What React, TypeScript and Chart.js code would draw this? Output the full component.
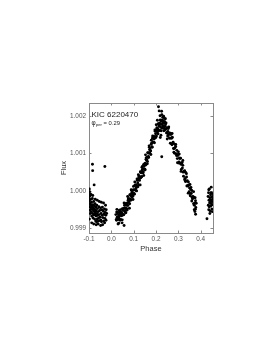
import React, { useEffect, useRef } from "react";
import { Chart, registerables } from "chart.js";

Chart.register(...registerables);

// ---- Data (phase, normalized flux) ----
const leftPhase = [
  -0.099, -0.098, -0.097, -0.096, -0.095, -0.094, -0.093, -0.092, -0.091, -0.09,
  -0.089, -0.088, -0.087, -0.086, -0.085, -0.084, -0.083, -0.082, -0.081, -0.08,
  -0.079, -0.078, -0.077, -0.076, -0.075, -0.074, -0.073, -0.072, -0.071, -0.07,
  -0.069, -0.068, -0.067, -0.066, -0.065, -0.064, -0.063, -0.062, -0.061, -0.06,
  -0.058, -0.057, -0.056, -0.055, -0.053, -0.052, -0.05, -0.049, -0.047, -0.046,
  -0.044, -0.043, -0.041, -0.04, -0.038, -0.036, -0.034, -0.033, -0.031, -0.029,
  -0.027, -0.025, -0.023,
  -0.098, -0.094, -0.088, -0.083, -0.079, -0.072, -0.068, -0.063, -0.059, -0.054,
  -0.048, -0.045, -0.039, -0.035, -0.03, -0.026, -0.024, -0.021,
  -0.0845, -0.0837, -0.029, -0.077, -0.0985, -0.097, -0.09, -0.0995, -0.096,
];
const leftFlux = [
  0.99972, 0.99958, 0.99985, 0.99949, 0.99966, 0.9994, 0.99977, 0.99955, 0.99962, 0.99945,
  0.9997, 0.99933, 0.99958, 0.99951, 0.9998, 0.9994, 0.99963, 0.99928, 0.99955, 0.99947,
  0.99972, 0.99936, 0.99952, 0.9996, 0.99925, 0.99944, 0.99966, 0.99938, 0.9995, 0.9992,
  0.99957, 0.99933, 0.99946, 0.99918, 0.99962, 0.9994, 0.99925, 0.99953, 0.99935, 0.99919,
  0.99945, 0.99928, 0.99958, 0.99937, 0.99921, 0.99948, 0.9993, 0.99955, 0.99922, 0.9994,
  0.99918, 0.9995, 0.99935, 0.99957, 0.99929, 0.99946, 0.9992, 0.99938, 0.99952, 0.99927,
  0.99943, 0.99935, 0.9995,
  0.99925, 0.99992, 0.99915, 0.99988, 0.99912, 0.99978, 0.9991, 0.99975, 0.99912, 0.99972,
  0.99908, 0.9997, 0.9991, 0.99968, 0.99915, 0.99962, 0.99922, 0.9994,
  1.00071, 1.00054, 1.00065, 1.00016, 1.00005, 0.99998, 0.9999, 0.99978, 0.99988,
];

const risePhase = [
  0.02, 0.022, 0.024, 0.026, 0.028, 0.03, 0.032, 0.034, 0.036, 0.038,
  0.04, 0.042, 0.044, 0.046, 0.048, 0.05, 0.052, 0.054, 0.056, 0.058,
  0.06, 0.062, 0.064, 0.066, 0.068, 0.07, 0.072, 0.074, 0.076, 0.078,
  0.08, 0.082, 0.084, 0.086, 0.088, 0.09, 0.092, 0.094, 0.096, 0.098,
  0.1, 0.102, 0.104, 0.106, 0.108, 0.11, 0.112, 0.114, 0.116, 0.118,
  0.12, 0.122, 0.124, 0.126, 0.128, 0.13, 0.132, 0.134, 0.136, 0.138,
  0.14, 0.142, 0.144, 0.146, 0.148, 0.15, 0.152, 0.154, 0.156, 0.158,
  0.16, 0.162, 0.164, 0.166, 0.168, 0.17, 0.172, 0.174, 0.176, 0.178,
  0.18, 0.182, 0.184, 0.186, 0.188, 0.19, 0.192, 0.194, 0.196, 0.198,
  0.2, 0.202, 0.204, 0.206, 0.208, 0.21, 0.212, 0.214,
  0.023, 0.027, 0.031, 0.035, 0.039, 0.043, 0.047, 0.051, 0.055, 0.059,
  0.063, 0.067, 0.071, 0.075, 0.079, 0.083, 0.087, 0.091, 0.095, 0.099,
  0.103, 0.107, 0.111, 0.115, 0.119, 0.123, 0.127, 0.131, 0.135, 0.139,
  0.143, 0.147, 0.151, 0.155, 0.159, 0.163, 0.167, 0.171, 0.175, 0.179,
  0.183, 0.187, 0.191, 0.195, 0.199, 0.203, 0.207, 0.211,
  0.025, 0.033, 0.041, 0.049, 0.057, 0.065, 0.073, 0.081, 0.089, 0.097,
  0.105, 0.113, 0.121, 0.129, 0.137, 0.145, 0.153, 0.161, 0.169, 0.177,
  0.185, 0.193, 0.201, 0.209,
  0.057, 0.048, 0.03,
];
const riseFlux = [
  0.99937, 0.99924, 0.99944, 0.9993, 0.99941, 0.99924, 0.99936, 0.99928, 0.99943, 0.99934,
  0.99939, 0.99924, 0.99945, 0.99934, 0.99941, 0.99953, 0.99936, 0.99948, 0.99937, 0.99954,
  0.99955, 0.99944, 0.99966, 0.99954, 0.99967, 0.99952, 0.99967, 0.99961, 0.99979, 0.99971,
  0.99979, 0.99966, 0.99989, 0.99978, 0.99987, 1.00001, 0.99984, 0.99996, 0.99986, 1.00002,
  1.00003, 0.99993, 1.00014, 1.00003, 1.00015, 1.00001, 1.00016, 1.00011, 1.00028, 1.00021,
  1.00029, 1.00016, 1.00039, 1.00028, 1.00037, 1.00051, 1.00035, 1.00048, 1.00038, 1.00056,
  1.00058, 1.00048, 1.0007, 1.00059, 1.00072, 1.00058, 1.00074, 1.00069, 1.00088, 1.00081,
  1.0009, 1.00078, 1.00101, 1.00092, 1.00101, 1.00116, 1.00101, 1.00114, 1.00106, 1.00124,
  1.00127, 1.00118, 1.0014, 1.0013, 1.00143, 1.0013, 1.00145, 1.0014, 1.00159, 1.00152,
  1.0016, 1.00146, 1.00168, 1.00157, 1.00166, 1.00179, 1.00161, 1.00173,
  0.99922, 0.99943, 0.9993, 0.99948, 0.99922, 0.99943, 0.99938, 0.99952, 0.99937, 0.99962,
  0.99948, 0.99962, 0.99949, 0.99975, 0.99973, 0.9999, 0.99975, 0.99994, 0.99989, 1.00012,
  0.99991, 1.00016, 1.00008, 1.00032, 1.00011, 1.00035, 1.00033, 1.0005, 1.00038, 1.00065,
  1.00051, 1.00066, 1.00056, 1.00084, 1.00083, 1.00102, 1.00089, 1.0011, 1.00108, 1.00135,
  1.00116, 1.00144, 1.00138, 1.00162, 1.00142, 1.00165, 1.00161, 1.00177,
  0.99951, 0.99914, 0.9995, 0.99923, 0.99968, 0.99942, 0.99985, 0.99954, 1.00003, 0.99977,
  1.00024, 1.0, 1.00043, 1.00016, 1.00063, 1.00041, 1.00096, 1.00072, 1.0012, 1.00097,
  1.00146, 1.00128, 1.00176, 1.00152,
  0.99908, 0.99915, 0.99912,
];

const peakPhase = [
  0.216, 0.217, 0.219, 0.22, 0.221, 0.223, 0.224, 0.225, 0.227, 0.228,
  0.229, 0.231, 0.232, 0.233, 0.235, 0.236, 0.237, 0.239, 0.24, 0.241,
  0.243, 0.244, 0.245, 0.247, 0.248, 0.249, 0.251, 0.252, 0.253, 0.255,
  0.256, 0.257, 0.259, 0.26, 0.261,
  0.222, 0.234, 0.242, 0.25, 0.226, 0.219,
  0.211, 0.214, 0.225, 0.218, 0.23, 0.238, 0.206, 0.2256,
];
const peakFlux = [
  1.00181, 1.00161, 1.00189, 1.0017, 1.00177, 1.0016, 1.00185, 1.00168, 1.00177, 1.00189,
  1.00167, 1.00181, 1.00173, 1.00186, 1.0016, 1.0018, 1.00167, 1.00184, 1.00162, 1.00173,
  1.00178, 1.00165, 1.00181, 1.00154, 1.00168, 1.00155, 1.00167, 1.00146, 1.00158, 1.00166,
  1.0015, 1.0017, 1.00151, 1.00141, 1.00154,
  1.00148, 1.00199, 1.00192, 1.00138, 1.00203, 1.00142,
  1.00224, 1.00213, 1.00212, 1.002, 1.00196, 1.00193, 1.00188, 1.00091,
];

const fallPhase = [
  0.263, 0.265, 0.268, 0.27, 0.273, 0.275, 0.278, 0.28, 0.283, 0.285,
  0.288, 0.29, 0.293, 0.295, 0.298, 0.3, 0.303, 0.305, 0.308, 0.31,
  0.313, 0.315, 0.318, 0.32, 0.323, 0.325, 0.328, 0.33, 0.333, 0.335,
  0.338, 0.34, 0.343, 0.345, 0.348, 0.35, 0.353, 0.355, 0.358, 0.36,
  0.363, 0.365, 0.368, 0.37, 0.373, 0.375, 0.378, 0.38,
  0.2665, 0.2715, 0.2765, 0.2815, 0.2865, 0.2915, 0.2965, 0.3015, 0.3065, 0.3115,
  0.3165, 0.3215, 0.3265, 0.3315, 0.3365, 0.3415, 0.3465, 0.3515, 0.3565, 0.3615,
  0.3665, 0.3715, 0.3765,
  0.264, 0.272, 0.28, 0.288, 0.296, 0.304, 0.312, 0.32, 0.328, 0.336,
  0.344, 0.352, 0.36, 0.368, 0.376,
  0.374, 0.377, 0.371,
];
const fallFlux = [
  1.0014, 1.00153, 1.00126, 1.0014, 1.00143, 1.00126, 1.00113, 1.00126, 1.001, 1.00115,
  1.00118, 1.00099, 1.00108, 1.00086, 1.00094, 1.00104, 1.00077, 1.00087, 1.00074, 1.00087,
  1.00057, 1.00073, 1.00061, 1.00068, 1.00039, 1.00052, 1.00054, 1.00033, 1.00049, 1.00026,
  1.00013, 1.00027, 1.00013, 1.00024, 0.99998, 1.00008, 0.99987, 1.00004, 0.99993, 1.00001,
  0.99979, 0.99985, 0.99966, 0.99983, 0.99967, 0.99982, 0.99956, 0.99967,
  1.0015, 1.00123, 1.0013, 1.00113, 1.00123, 1.00094, 1.00097, 1.00074, 1.00087, 1.00071,
  1.00076, 1.0005, 1.00051, 1.00025, 1.00037, 1.00014, 1.00016, 0.99993, 1.00009, 0.99983,
  0.99981, 0.99962, 0.99974,
  1.00127, 1.00153, 1.00103, 1.00124, 1.00075, 1.00098, 1.00052, 1.00081, 1.0003, 1.00046,
  0.99994, 1.00017, 0.99973, 0.99998, 0.99951,
  0.99945, 0.99938, 0.9995,
];

const rightPhase = [
  0.433, 0.434, 0.435, 0.436, 0.437, 0.438, 0.439, 0.44, 0.441, 0.442,
  0.443, 0.444, 0.445, 0.446, 0.447, 0.448, 0.449, 0.45, 0.451, 0.452,
  0.453, 0.454, 0.436, 0.441, 0.446, 0.451, 0.4545, 0.428,
];
const rightFlux = [
  0.99985, 0.99962, 0.99995, 0.9995, 0.99975, 0.99958, 1.00005, 0.99968, 0.99982, 0.99947,
  0.9997, 0.9999, 0.9996, 0.99976, 1.0001, 0.99965, 0.99984, 0.99952, 0.99972, 0.99993,
  0.99963, 0.99978, 1.00003, 0.9994, 0.99995, 0.99945, 0.99985, 0.99926,
];

const xTickValues = [-0.1, 0.0, 0.1, 0.2, 0.3, 0.4];
const xTickLabels = ["-0.1", "0.0", "0.1", "0.2", "0.3", "0.4"];
const yTickValues = [0.999, 1.0, 1.001, 1.002];
const yTickLabels = ["0.999", "1.000", "1.001", "1.002"];

const xTitle = "Phase";
const yTitle = "Flux";
const starName = "KIC 6220470";
const phiSymbol = "φ";
const phiSub = "per";
const phiValue = " = 0.29";

const FONT = "'Liberation Sans', Arial, sans-serif";

function buildPoints() {
  const segs: [number[], number[]][] = [
    [leftPhase, leftFlux],
    [risePhase, riseFlux],
    [peakPhase, peakFlux],
    [fallPhase, fallFlux],
    [rightPhase, rightFlux],
  ];
  const pts: { x: number; y: number }[] = [];
  for (const [px, fy] of segs) {
    for (let i = 0; i < px.length; i++) pts.push({ x: px[i], y: fy[i] });
  }
  return pts;
}

const framePlugin = {
  id: "frame",
  beforeDatasetsDraw(chart: any) {
    const { ctx, chartArea } = chart;
    const { left, right, top, bottom } = chartArea;
    ctx.save();
    ctx.strokeStyle = "#8a8a8a";
    ctx.lineWidth = 1;
    ctx.strokeRect(Math.round(left) + 0.5, Math.round(top) + 0.5, Math.round(right - left), Math.round(bottom - top));
    const xs = chart.scales.x;
    const ys = chart.scales.y;
    ctx.beginPath();
    for (const v of xTickValues) {
      const p = Math.round(xs.getPixelForValue(v)) + 0.5;
      ctx.moveTo(p, bottom);
      ctx.lineTo(p, bottom - 2.5);
      ctx.moveTo(p, top);
      ctx.lineTo(p, top + 2.5);
    }
    for (const v of yTickValues) {
      const p = Math.round(ys.getPixelForValue(v)) + 0.5;
      ctx.moveTo(left, p);
      ctx.lineTo(left + 2.5, p);
      ctx.moveTo(right, p);
      ctx.lineTo(right - 2.5, p);
    }
    ctx.stroke();
    ctx.restore();
  },
  afterDraw(chart: any) {
    const { ctx, chartArea } = chart;
    const x0 = chartArea.left + 2.5;
    ctx.save();
    ctx.fillStyle = "#222";
    ctx.textBaseline = "alphabetic";
    ctx.textAlign = "left";
    ctx.font = `8px ${FONT}`;
    ctx.fillText(starName, x0, chartArea.top + 13.5);
    let x = x0;
    const yb = chartArea.top + 21.8;
    ctx.font = `6.4px ${FONT}`;
    ctx.fillText(phiSymbol, x, yb);
    x += ctx.measureText(phiSymbol).width + 0.3;
    ctx.font = `4.2px ${FONT}`;
    ctx.fillText(phiSub, x, yb + 1.5);
    x += ctx.measureText(phiSub).width;
    ctx.font = `5.8px ${FONT}`;
    ctx.fillText(phiValue, x, yb);
    ctx.restore();
  },
};

export default function App() {
  const canvasRef = useRef<HTMLCanvasElement | null>(null);

  useEffect(() => {
    const canvas = canvasRef.current;
    if (!canvas) return;
    const chart = new Chart(canvas, {
      type: "scatter",
      data: {
        datasets: [
          {
            data: buildPoints(),
            pointRadius: 1.45,
            pointBackgroundColor: "#000",
            pointBorderWidth: 0,
            pointStyle: "circle",
            showLine: false,
          },
        ],
      },
      options: {
        animation: false,
        responsive: false,
        devicePixelRatio: 1,
        layout: { padding: { left: 57, right: 60, top: 103, bottom: 98 } },
        plugins: { legend: { display: false }, tooltip: { enabled: false } },
        scales: {
          x: {
            type: "linear",
            min: -0.1,
            max: 0.455,
            afterBuildTicks: (s: any) => {
              s.ticks = xTickValues.map((v) => ({ value: v }));
            },
            afterFit: (s: any) => {
              s.height = 22;
            },
            ticks: {
              callback: (v: any) => xTickLabels[xTickValues.indexOf(Number(v))],
              font: { size: 6.4, family: FONT },
              color: "#555",
              padding: 2,
              maxRotation: 0,
              autoSkip: false,
            },
            grid: { display: false, drawTicks: false },
            border: { display: false },
            title: {
              display: true,
              text: xTitle,
              font: { size: 7.5, family: FONT },
              color: "#333",
              padding: { top: 2, bottom: 2 },
            },
          },
          y: {
            type: "linear",
            min: 0.99888,
            max: 1.00234,
            afterBuildTicks: (s: any) => {
              s.ticks = yTickValues.map((v) => ({ value: v }));
            },
            afterFit: (s: any) => {
              s.width = 32;
            },
            ticks: {
              callback: (v: any) => yTickLabels[yTickValues.indexOf(Number(v))],
              font: { size: 6.4, family: FONT },
              color: "#555",
              padding: 3,
              autoSkip: false,
            },
            grid: { display: false, drawTicks: false },
            border: { display: false },
            title: {
              display: true,
              text: yTitle,
              font: { size: 7.5, family: FONT },
              color: "#333",
              padding: { top: 2, bottom: 2 },
            },
          },
        },
      },
      plugins: [framePlugin],
    });
    return () => chart.destroy();
  }, []);

  return (
    <div style={{ position: "absolute", left: 0, top: 0, width: 273, height: 353, background: "#fff" }}>
      <canvas ref={canvasRef} width={273} height={353} style={{ width: 273, height: 353, display: "block" }} />
    </div>
  );
}
